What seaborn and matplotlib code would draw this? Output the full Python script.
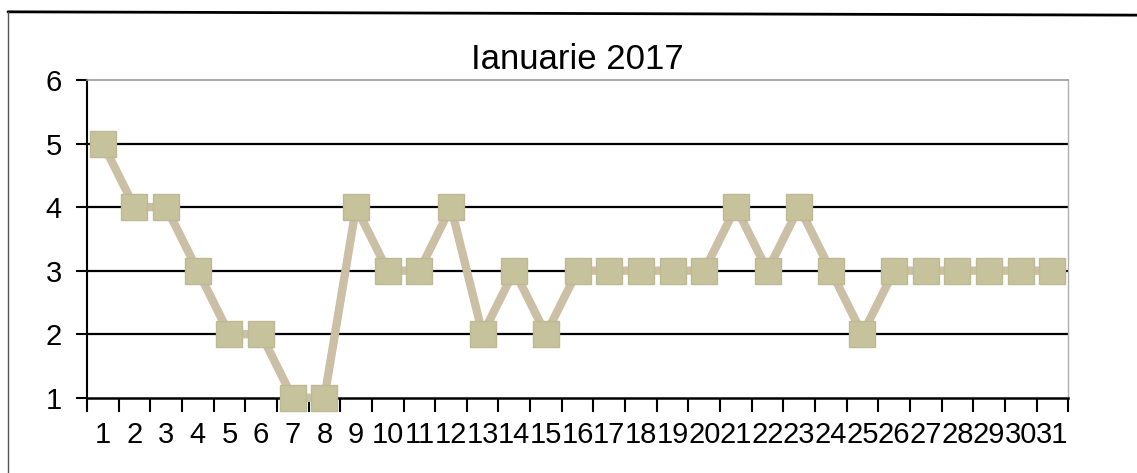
import matplotlib
matplotlib.use('Agg')
import matplotlib.pyplot as plt
import seaborn as sns
import pandas as pd
from matplotlib.lines import Line2D

# data
days = list(range(1, 32))
values = [5, 4, 4, 3, 2, 2, 1, 1, 4, 3, 3, 4, 2, 3, 2, 3, 3, 3, 3, 3,
          4, 3, 4, 3, 2, 3, 3, 3, 3, 3, 3]
title = 'Ianuarie 2017'

df = pd.DataFrame({'Zi': days, 'Valoare': values})

sns.set_style('white')
plt.rcParams['font.family'] = ['Liberation Sans', 'DejaVu Sans']
plt.rcParams['text.color'] = 'black'
plt.rcParams['xtick.color'] = 'black'
plt.rcParams['ytick.color'] = 'black'

fig = plt.figure(figsize=(11.37, 4.73), dpi=100)
ax = fig.add_axes([0.0765, 0.159, 0.863, 0.672])

sns.lineplot(data=df, x='Zi', y='Valoare', ax=ax, color='#cbbfa5', linewidth=6,
             marker='s', markersize=19, markerfacecolor='#c6c29c',
             markeredgecolor='#bdb994', markeredgewidth=1, clip_on=False, zorder=3)

ax.set_xlim(0.5, 31.5)
ax.set_ylim(1, 6)
ax.set_xlabel('')
ax.set_ylabel('')
ax.set_title(title, fontsize=25, pad=8, color='black')

# horizontal gridlines
for y in range(2, 6):
    ax.axhline(y, color='black', linewidth=1.6, zorder=1)

# y axis
ax.set_yticks(range(1, 7))
ax.tick_params(axis='y', direction='out', length=8, width=1.5, labelsize=21, pad=10, left=True)

# x axis: labels on days, tick marks between categories
ax.set_xticks(days)
ax.set_xticklabels([str(d) for d in days])
ax.tick_params(axis='x', which='major', length=0, labelsize=21, pad=17)
ax.set_xticks([d - 0.5 for d in days] + [31.5], minor=True)
ax.tick_params(axis='x', which='minor', direction='out', length=10, width=1.5, bottom=True)

ax.spines['left'].set_color('black')
ax.spines['left'].set_linewidth(1.5)
ax.spines['bottom'].set_color('black')
ax.spines['bottom'].set_linewidth(1.8)
ax.spines['top'].set_color('#9a9a9a')
ax.spines['top'].set_linewidth(1.2)
ax.spines['right'].set_color('#b0b0b0')
ax.spines['right'].set_linewidth(1.0)

# outer chart frame
fig.add_artist(Line2D([0.007, 1.0], [0.975, 0.968], color='black', linewidth=2, transform=fig.transFigure))
fig.add_artist(Line2D([0.007, 0.007], [0.975, 0.0], color='#555555', linewidth=1, transform=fig.transFigure))

fig.savefig('out.png', dpi=100)
